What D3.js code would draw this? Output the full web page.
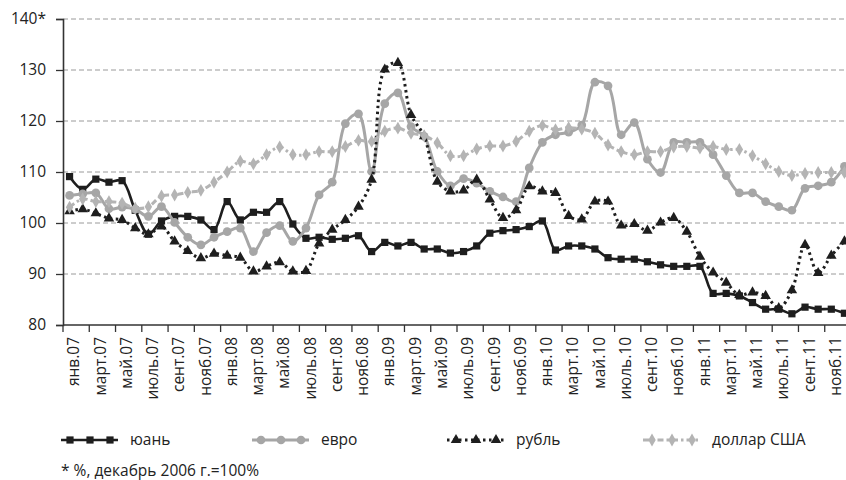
<!DOCTYPE html>
<html>
<head>
<meta charset="utf-8">
<script src="https://cdn.jsdelivr.net/npm/d3@7"></script>
<style>
  html, body { margin: 0; padding: 0; background: #fff; }
  svg { display: block; font-family: 'Open Sans', 'DejaVu Sans', sans-serif; }
</style>
</head>
<body>
<div id="chart"></div>
<script>
// месяцы янв.2007 - дек.2011
const monthNames = ['янв', 'февр', 'март', 'апр', 'май', 'июнь', 'июль', 'авг', 'сент', 'окт', 'нояб', 'дек']
const years = ['07', '08', '09', '10', '11']
const months = years.flatMap(y => monthNames.map(m => `${m}.${y}`))

const yTicks = [80, 90, 100, 110, 120, 130, 140]

const yuan = [
  109.1, 106.6, 108.6, 108.0, 108.3, 102.5, 97.8, 100.4, 101.3, 101.3, 100.6, 98.7,
  104.2, 100.6, 102.1, 102.1, 104.2, 99.8, 97.0, 97.2, 96.8, 97.0, 97.5, 94.4,
  96.2, 95.5, 96.2, 94.9, 94.9, 94.1, 94.4, 95.5, 98.0, 98.5, 98.7, 99.3,
  100.4, 94.7, 95.5, 95.5, 94.9, 93.2, 92.9, 92.9, 92.4, 91.8, 91.5, 91.5,
  91.5, 86.2, 86.2, 85.7, 84.4, 83.1, 83.1, 82.2, 83.5, 83.1, 83.1, 82.3
]
const euro = [
  105.4, 105.7, 105.9, 102.8, 103.1, 102.7, 101.3, 103.2, 100.1, 97.2, 95.7, 97.2,
  98.3, 99.0, 94.4, 98.1, 99.5, 96.4, 99.0, 105.5, 108.0, 119.5, 121.4, 110.1,
  123.4, 125.5, 118.9, 117.0, 110.1, 107.3, 108.7, 107.8, 106.2, 105.1, 104.2, 110.8,
  115.8, 117.3, 117.8, 119.2, 127.6, 126.9, 117.3, 119.7, 112.5, 109.9, 115.8, 115.8,
  115.8, 113.4, 109.3, 105.9, 105.9, 104.2, 103.2, 102.5, 106.8, 107.3, 108.0, 111.1
]
const ruble = [
  102.3, 102.7, 101.9, 100.9, 100.6, 99.0, 97.8, 99.3, 96.4, 94.5, 93.1, 94.0,
  93.6, 93.2, 90.5, 91.5, 92.3, 90.5, 90.6, 96.0, 98.7, 100.6, 103.2, 108.5,
  130.1, 131.4, 121.2, 117.0, 108.1, 106.2, 106.4, 108.5, 104.6, 101.0, 102.5, 107.2,
  106.2, 105.9, 101.4, 100.7, 104.2, 104.2, 99.5, 99.8, 98.5, 100.1, 101.0, 98.3,
  93.4, 90.3, 88.3, 85.9, 86.4, 85.7, 83.3, 86.8, 95.7, 90.2, 93.6, 96.4
]
const dollar = [
  103.1, 104.7, 104.2, 104.2, 103.9, 102.9, 103.2, 105.3, 105.5, 106.0, 106.4, 108.0,
  110.0, 112.1, 111.6, 113.4, 114.9, 113.4, 113.4, 114.0, 114.0, 115.0, 116.2, 116.0,
  118.0, 118.6, 117.6, 117.1, 115.7, 113.2, 113.2, 114.5, 115.1, 115.1, 116.0, 118.0,
  119.1, 118.3, 118.7, 118.4, 117.6, 115.3, 114.0, 113.4, 114.0, 114.0, 114.9, 115.0,
  114.7, 115.0, 114.4, 114.4, 113.2, 111.6, 110.1, 109.3, 109.7, 109.9, 109.9, 109.9
]

const seriesNames = ['юань', 'евро', 'рубль', 'доллар США']
const footnote = '* %, декабрь 2006 г.=100%'

const width = 846
const height = 480
const margin = { top: 19, left: 63, bottom: 325 }

const series = [
  { name: seriesNames[0], values: yuan, color: '#1e1e1e', width: 2.6, dash: null, marker: d3.symbolSquare, size: 52 },
  { name: seriesNames[1], values: euro, color: '#a6a6a6', width: 3, dash: null, marker: d3.symbolCircle, size: 60 },
  { name: seriesNames[2], values: ruble, color: '#1e1e1e', width: 3, dash: '2.5,3.5', marker: d3.symbolTriangle, size: 48 },
  { name: seriesNames[3], values: dollar, color: '#b4b4b4', width: 3, dash: '6,3,2.5,3', marker: d3.symbolDiamond, size: 48 }
]

const svg = d3.select('#chart')
  .append('svg')
  .attr('width', width)
  .attr('height', height)

// x: 60 категорий, правый край уходит за пределы картинки
const x = d3.scaleLinear().domain([0, months.length]).range([margin.left, 851])
const y = d3.scaleLinear().domain([80, 140]).range([margin.bottom, margin.top])

// сетка
svg.append('g')
  .selectAll('line')
  .data(yTicks.filter(d => d > 80))
  .join('line')
  .attr('x1', margin.left)
  .attr('x2', width)
  .attr('y1', d => y(d))
  .attr('y2', d => y(d))
  .attr('stroke', '#9a9a9a')
  .attr('stroke-width', 1)
  .attr('stroke-dasharray', '5,3')

// ось Y
const yAxis = svg.append('g')
  .attr('transform', `translate(${margin.left},0)`)
  .call(d3.axisLeft(y).tickValues(yTicks).tickSize(7).tickPadding(10)
    .tickFormat(d => d === 140 ? '140*' : d))
yAxis.select('.domain').attr('stroke', '#333').attr('stroke-width', 1.6)
yAxis.selectAll('.tick line').attr('stroke', '#333').attr('stroke-width', 1.3)
yAxis.selectAll('.tick text')
  .attr('font-size', 15.5)
  .attr('fill', '#222')
  .attr('font-family', "'Open Sans', sans-serif")

// ось X
const xg = svg.append('g')
xg.append('line')
  .attr('x1', margin.left)
  .attr('x2', width)
  .attr('y1', y(80))
  .attr('y2', y(80))
  .attr('stroke', '#333')
  .attr('stroke-width', 1.6)

const tickIdx = d3.range(0, months.length + 1, 2)
xg.selectAll('line.tick')
  .data(tickIdx)
  .join('line')
  .attr('class', 'tick')
  .attr('x1', d => x(d))
  .attr('x2', d => x(d))
  .attr('y1', y(80))
  .attr('y2', y(80) + 7)
  .attr('stroke', '#333')
  .attr('stroke-width', 1.3)

xg.selectAll('text')
  .data(months.filter((d, i) => i % 2 === 0))
  .join('text')
  .attr('transform', (d, i) => `translate(${x(i * 2 + 1)},${y(80) + 12}) rotate(-90)`)
  .attr('text-anchor', 'end')
  .attr('dy', '0.2em')
  .attr('font-size', 15.5)
  .attr('fill', '#222')
  .text(d => d)

// линии
const line = d3.line()
  .x((d, i) => x(i + 0.5))
  .y(d => y(d))
  .curve(d3.curveCatmullRom.alpha(0.5))

const gSeries = svg.append('g')
series.forEach(s => {
  const g = gSeries.append('g')
  g.append('path')
    .datum(s.values)
    .attr('d', line)
    .attr('fill', 'none')
    .attr('stroke', s.color)
    .attr('stroke-width', s.width)
    .attr('stroke-dasharray', s.dash)
    .attr('stroke-linejoin', 'round')

  g.selectAll('path.mark')
    .data(s.values)
    .join('path')
    .attr('class', 'mark')
    .attr('d', d3.symbol(s.marker, s.size))
    .attr('transform', (d, i) => `translate(${x(i + 0.5)},${y(d)})`)
    .attr('fill', s.color)
})

// легенда
const legendX = [61, 252, 447, 643]
const legendY = 440
const legend = svg.append('g')
series.forEach((s, k) => {
  const g = legend.append('g').attr('transform', `translate(${legendX[k]},${legendY})`)
  g.append('line')
    .attr('x1', 0)
    .attr('x2', 57)
    .attr('stroke', s.color)
    .attr('stroke-width', s.width)
    .attr('stroke-dasharray', s.dash)
  ;[9, 29, 49].forEach(px => {
    g.append('path')
      .attr('d', d3.symbol(s.marker, s.size)())
      .attr('transform', `translate(${px},0)`)
      .attr('fill', s.color)
  })
  g.append('text')
    .attr('x', 69)
    .attr('dy', '0.35em')
    .attr('font-size', 15.5)
    .attr('fill', '#222')
    .text(s.name)
})

// сноска
svg.append('text')
  .attr('x', 61)
  .attr('y', 476)
  .attr('font-size', 15.5)
  .attr('fill', '#222')
  .text(footnote)
</script>
</body>
</html>
